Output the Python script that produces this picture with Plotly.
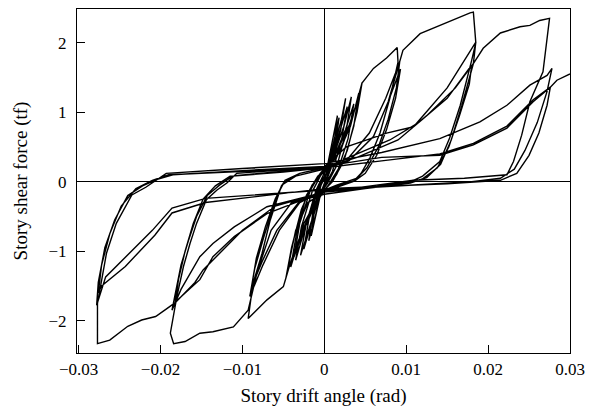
import plotly.graph_objects as go

# Hysteresis record (story drift angle [rad], story shear force [tf])
# Small-amplitude cycles
cyc01 = [(0, 0), (0.0008, 0.45), (0.0016, 0.95), (0.0012, 0.55), (0.0004, 0.1), (-0.0004, -0.15),
         (-0.0010, -0.45), (-0.0016, -0.78), (-0.0012, -0.4), (-0.0004, -0.05), (0.0003, 0.12)]
cyc02 = [(0.0011, 0.55), (0.0018, 0.92), (0.0013, 0.5), (0.0004, 0.05), (-0.0005, -0.2),
         (-0.0012, -0.55), (-0.0019, -0.85), (-0.0014, -0.45), (-0.0005, -0.02), (0.0004, 0.15)]
cyc03 = [(0.0013, 0.55), (0.0021, 0.9), (0.0026, 1.2), (0.0020, 0.75), (0.0010, 0.25), (0.0002, 0.0),
         (-0.0006, -0.2), (-0.0015, -0.55), (-0.0025, -0.97), (-0.0019, -0.55), (-0.0008, -0.1), (0.0002, 0.12)]
cyc04 = [(0.0012, 0.45), (0.0022, 0.85), (0.0028, 1.08), (0.0021, 0.6), (0.0010, 0.15), (0.0001, -0.05),
         (-0.0008, -0.3), (-0.0018, -0.65), (-0.0029, -1.06), (-0.0022, -0.6), (-0.0010, -0.12), (0.0001, 0.15)]
cyc05 = [(0.0012, 0.4), (0.0024, 0.8), (0.0033, 1.22), (0.0027, 0.75), (0.0016, 0.25), (0.0004, -0.02),
         (-0.0008, -0.22), (-0.0022, -0.6), (-0.0035, -1.13), (-0.0028, -0.65), (-0.0015, -0.15), (-0.0004, 0.1)]
cyc06 = [(0.0010, 0.3), (0.0026, 0.75), (0.0036, 1.12), (0.0029, 0.62), (0.0017, 0.18), (0.0005, -0.05),
         (-0.0010, -0.3), (-0.0025, -0.7), (-0.0037, -1.08), (-0.0030, -0.6), (-0.0017, -0.12), (-0.0005, 0.12)]
cyc07 = [(0.0012, 0.35), (0.0030, 0.8), (0.0040, 1.15), (0.0046, 1.42), (0.0040, 1.0), (0.0028, 0.45),
         (0.0015, 0.1), (0.0003, -0.08), (-0.0012, -0.3), (-0.0030, -0.8), (-0.0041, -1.15), (-0.0047, -1.39),
         (-0.0040, -0.95), (-0.0028, -0.4), (-0.0015, -0.05), (0.0000, 0.15)]
cyc08 = [(0.0015, 0.35), (0.0032, 0.8), (0.0042, 1.27), (0.0036, 0.8), (0.0024, 0.3), (0.0010, 0.0),
         (-0.0005, -0.18), (-0.0025, -0.6), (-0.0041, -1.23), (-0.0034, -0.75), (-0.0022, -0.2),
         (-0.0008, 0.08), (0.0004, 0.2)]
# 0.009 rad cycles
cyc09 = [(0.0020, 0.45), (0.0035, 0.95), (0.0046, 1.42), (0.0060, 1.63), (0.0076, 1.78), (0.0089, 1.93),
         (0.0090, 1.72), (0.0080, 1.2), (0.0068, 0.7), (0.0056, 0.35), (0.0045, 0.12), (0.0035, 0.0),
         (0.0015, -0.08), (0.0, -0.15), (-0.0020, -0.3), (-0.0035, -0.7), (-0.0047, -1.39), (-0.0050, -1.51),
         (-0.0070, -1.70), (-0.0087, -1.89), (-0.0093, -1.97), (-0.0087, -1.46), (-0.0076, -1.03),
         (-0.0066, -0.55), (-0.0054, -0.12), (-0.0048, 0.02), (-0.0030, 0.12), (0.0, 0.2)]
cyc10 = [(0.0030, 0.35), (0.0055, 0.7), (0.0075, 1.2), (0.0092, 1.72), (0.0088, 1.35), (0.0078, 0.9),
         (0.0066, 0.5), (0.0052, 0.2), (0.0040, 0.05), (0.0015, -0.05), (0.0, -0.12), (-0.0030, -0.3),
         (-0.0055, -0.7), (-0.0075, -1.2), (-0.0091, -1.65), (-0.0085, -1.25), (-0.0074, -0.8),
         (-0.0062, -0.35), (-0.0052, -0.05), (-0.0035, 0.08), (0.0, 0.18)]
cyc11 = [(0.0030, 0.3), (0.0060, 0.65), (0.0078, 1.15), (0.0093, 1.62), (0.0087, 1.2), (0.0076, 0.75),
         (0.0064, 0.38), (0.0050, 0.12), (0.0038, 0.02), (0.0015, -0.06), (0.0, -0.12), (-0.0030, -0.28),
         (-0.0058, -0.7), (-0.0076, -1.15), (-0.0089, -1.52), (-0.0083, -1.1), (-0.0072, -0.65),
         (-0.0060, -0.25), (-0.0050, -0.02), (-0.0035, 0.08), (0.0, 0.18)]
# 0.018 rad cycles
cyc12 = [(0.0030, 0.3), (0.0060, 0.65), (0.0078, 1.15), (0.0091, 1.70), (0.0096, 1.89), (0.0117, 2.13),
         (0.0137, 2.23), (0.0157, 2.32), (0.0178, 2.43), (0.0182, 2.44), (0.0185, 2.0), (0.0180, 1.75),
         (0.0166, 1.1), (0.0153, 0.63), (0.0141, 0.29), (0.0120, 0.08), (0.0109, 0.02), (0.0050, -0.1),
         (0.0, -0.18), (-0.0040, -0.3), (-0.0065, -0.7), (-0.0082, -1.3), (-0.0093, -1.85),
         (-0.0111, -2.09), (-0.0136, -2.16), (-0.0152, -2.18), (-0.0170, -2.30), (-0.0184, -2.33),
         (-0.0188, -2.18), (-0.0180, -1.65), (-0.0172, -1.22), (-0.0164, -0.89), (-0.0156, -0.6),
         (-0.0144, -0.26), (-0.0131, -0.12), (-0.0119, -0.02), (-0.0107, 0.12), (-0.0050, 0.17), (0.0, 0.22)]
cyc13 = [(0.0027, 0.5), (0.0076, 0.7), (0.0109, 0.79), (0.0150, 1.35), (0.0185, 2.01), (0.0182, 1.7),
         (0.0168, 1.1), (0.0155, 0.6), (0.0142, 0.25), (0.0125, 0.06), (0.0110, 0.0), (0.0050, -0.1),
         (0.0, -0.15), (-0.0070, -0.36), (-0.0110, -0.65), (-0.0136, -0.89), (-0.0152, -1.08),
         (-0.0175, -1.55), (-0.0186, -1.85), (-0.0182, -1.6), (-0.0175, -1.2), (-0.0166, -0.85),
         (-0.0156, -0.5), (-0.0143, -0.2), (-0.0128, -0.05), (-0.0112, 0.08), (-0.0050, 0.14), (0.0, 0.2)]
cyc14 = [(0.0040, 0.4), (0.0080, 0.6), (0.0115, 0.85), (0.0150, 1.2), (0.0180, 1.68), (0.0177, 1.4),
         (0.0165, 0.95), (0.0152, 0.5), (0.0138, 0.2), (0.0120, 0.04), (0.0105, -0.02), (0.0050, -0.1),
         (0.0, -0.14), (-0.0070, -0.46), (-0.0110, -0.79), (-0.0136, -1.08), (-0.0152, -1.41),
         (-0.0182, -1.73), (-0.0178, -1.4), (-0.0170, -1.0), (-0.0160, -0.6), (-0.0148, -0.25),
         (-0.0133, -0.06), (-0.0115, 0.08), (-0.0050, 0.15), (0.0, 0.2)]
# 0.028 rad cycles
cyc15 = [(0.0040, 0.35), (0.0090, 0.6), (0.0125, 0.95), (0.0160, 1.35), (0.0182, 1.70), (0.0194, 1.92),
         (0.0215, 2.14), (0.0239, 2.23), (0.0251, 2.25), (0.0263, 2.32), (0.0275, 2.35), (0.0267, 1.58),
         (0.0251, 1.15), (0.0241, 0.67), (0.0231, 0.29), (0.0223, 0.1), (0.0171, 0.05), (0.0109, 0.02),
         (0.0, -0.15), (-0.0060, -0.35), (-0.0100, -0.7), (-0.0148, -1.27), (-0.0158, -1.45),
         (-0.0170, -1.6), (-0.0182, -1.74), (-0.0194, -1.84), (-0.0206, -1.94), (-0.0223, -1.99),
         (-0.0240, -2.08), (-0.0262, -2.28), (-0.0277, -2.33), (-0.0277, -1.75), (-0.0266, -1.03),
         (-0.0254, -0.6), (-0.0235, -0.19), (-0.0218, -0.08), (-0.0205, 0.02), (-0.0193, 0.12),
         (-0.0100, 0.19), (0.0, 0.26)]
cyc16 = [(0.0070, 0.42), (0.0141, 0.62), (0.0190, 0.86), (0.0223, 1.1), (0.0251, 1.39), (0.0272, 1.53),
         (0.0278, 1.63), (0.0272, 1.3), (0.0260, 0.85), (0.0245, 0.45), (0.0232, 0.18), (0.0215, 0.05),
         (0.0180, 0.0), (0.0100, -0.05), (0.0, -0.12), (-0.0145, -0.24), (-0.0186, -0.38), (-0.0210, -0.7),
         (-0.0243, -1.08), (-0.0267, -1.37), (-0.0278, -1.78), (-0.0276, -1.45), (-0.0268, -0.95),
         (-0.0256, -0.55), (-0.0240, -0.2), (-0.0222, -0.06), (-0.0205, 0.03), (-0.0185, 0.1),
         (-0.0100, 0.16), (0.0, 0.22)]
cyc17 = [(0.0070, 0.35), (0.0141, 0.38), (0.0182, 0.53), (0.0223, 0.77), (0.0255, 1.15), (0.0276, 1.36),
         (0.0272, 1.1), (0.0262, 0.7), (0.0250, 0.38), (0.0235, 0.12), (0.0215, 0.02), (0.0150, -0.03),
         (0.0, -0.1), (-0.0145, -0.3), (-0.0186, -0.45), (-0.0207, -0.77), (-0.0243, -1.22),
         (-0.0272, -1.5), (-0.0276, -1.6), (-0.0272, -1.2), (-0.0262, -0.75), (-0.0248, -0.35),
         (-0.0230, -0.1), (-0.0210, 0.02), (-0.0190, 0.1), (-0.0100, 0.15), (0.0, 0.2)]
final_push = [(0.0070, 0.3), (0.0141, 0.4), (0.0182, 0.55), (0.0223, 0.8), (0.0255, 1.18), (0.0276, 1.36),
              (0.0284, 1.46), (0.0297, 1.53), (0.0300, 1.55)]

cycles = [cyc01, cyc02, cyc03, cyc04, cyc05, cyc06, cyc07, cyc08, cyc09, cyc10, cyc11,
          cyc12, cyc13, cyc14, cyc15, cyc16, cyc17, final_push]

x_tick_vals = [-0.03, -0.02, -0.01, 0, 0.01, 0.02, 0.03]
x_tick_text = ["\u22120.03", "\u22120.02", "\u22120.01", "0", "0.01", "0.02", "0.03"]
y_tick_vals = [-2, -1, 0, 1, 2]
y_tick_text = ["\u22122", "\u22121", "0", "1", "2"]

drift = [p[0] for c in cycles for p in c]
shear = [p[1] for c in cycles for p in c]

font_family = "Liberation Serif, Times New Roman, serif"

fig = go.Figure()
fig.add_trace(go.Scatter(x=drift, y=shear, mode="lines",
                         line=dict(color="black", width=1.4), showlegend=False,
                         cliponaxis=True))

# page body adds an 8 px offset, so the figure is drawn 8 px smaller
fig.update_layout(
    width=588, height=411,
    margin=dict(l=69, r=26, t=1, b=66),
    paper_bgcolor="white", plot_bgcolor="white",
    font=dict(family=font_family, size=17, color="black"),
)
fig.update_xaxes(
    range=[-0.0302, 0.0300], tickvals=x_tick_vals, ticktext=x_tick_text,
    ticks="inside", ticklen=8, tickcolor="black", tickwidth=1,
    showline=True, linecolor="black", linewidth=1.2, mirror=True,
    showgrid=False, zeroline=True, zerolinecolor="black", zerolinewidth=1.2,
    title=dict(text="Story drift angle (rad)", font=dict(size=19), standoff=11),
    tickfont=dict(size=17), automargin=False,
)
fig.update_yaxes(
    range=[-2.465, 2.485], tickvals=y_tick_vals, ticktext=y_tick_text,
    ticks="inside", ticklen=8, tickcolor="black", tickwidth=1,
    showline=True, linecolor="black", linewidth=1.2, mirror=True,
    showgrid=False, zeroline=True, zerolinecolor="black", zerolinewidth=1.2,
    title=dict(text="Story shear force (tf)", font=dict(size=19), standoff=15),
    tickfont=dict(size=17), ticklabelstandoff=6, automargin=False,
)

fig.write_html("out.html")
